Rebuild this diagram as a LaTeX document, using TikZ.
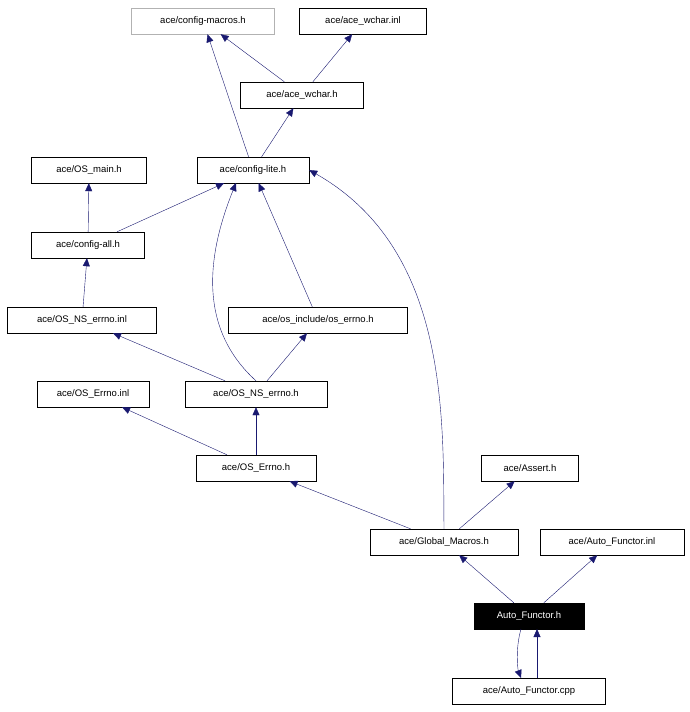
\documentclass[tikz,border=0pt]{standalone}
\usepackage{fontspec}
\setmainfont{Liberation Sans}
\usetikzlibrary{arrows.meta}
\definecolor{edgeblue}{RGB}{25,25,112}
\begin{document}
\begin{tikzpicture}[x=1pt,y=-1pt,
  file/.style={draw,fill=white,minimum height=26pt,inner sep=0pt,font=\fontsize{9.5}{11}\selectfont},
  dep/.style={edgeblue,-{Triangle[length=8pt,width=7pt]}}]
\useasboundingbox (0,0) rectangle (689,712);
% file nodes
\node[file,draw=gray!60,minimum width=143pt] (cmacros) at (203,21) {ace/config-macros.h};
\node[file,minimum width=127pt] (wcinl) at (363,21) {ace/ace\_wchar.inl};
\node[file,minimum width=123pt] (wch) at (302,95) {ace/ace\_wchar.h};
\node[file,minimum width=112pt] (clite) at (253,170) {ace/config-lite.h};
\node[file,minimum width=115pt] (osmain) at (89,170) {ace/OS\_main.h};
\node[file,minimum width=113pt] (call) at (88,245) {ace/config-all.h};
\node[file,minimum width=149pt] (nsinl) at (82,320) {ace/OS\_NS\_errno.inl};
\node[file,minimum width=179pt] (oserrno) at (318,320) {ace/os\_include/os\_errno.h};
\node[file,minimum width=112pt] (errinl) at (93,394) {ace/OS\_Errno.inl};
\node[file,minimum width=142pt] (nsh) at (256,394) {ace/OS\_NS\_errno.h};
\node[file,minimum width=120pt] (errh) at (256,468) {ace/OS\_Errno.h};
\node[file,minimum width=97pt] (assert) at (530,468) {ace/Assert.h};
\node[file,minimum width=148pt] (gmac) at (444,542) {ace/Global\_Macros.h};
\node[file,minimum width=144pt] (afinl) at (612,542) {ace/Auto\_Functor.inl};
\node[file,fill=black,text=white,minimum width=110pt] (afh) at (529,616) {Auto\_Functor.h};
\node[file,minimum width=153pt] (afcpp) at (529,691) {ace/Auto\_Functor.cpp};
% free ends of the curved and doubled edges
\coordinate (clitein) at (236,183);
\coordinate (afhout) at (521,629);
\coordinate (afhin) at (537,629);
\coordinate (cppout) at (537,678);
\coordinate (cppin) at (521,678);
% include edges
\draw[dep] (wch) -- (cmacros);
\draw[dep] (wch) -- (wcinl);
\draw[dep] (clite) -- (cmacros);
\draw[dep] (clite) -- (wch);
\draw[dep] (call) -- (osmain);
\draw[dep] (call) -- (clite);
\draw[dep] (nsinl) -- (call);
\draw[dep] (oserrno) -- (clite);
\draw[dep] (nsh) -- (nsinl);
\draw[dep] (nsh) -- (oserrno);
\draw[dep] (nsh.north) .. controls (200,330) and (205,260) .. (clitein);
\draw[dep] (errh) -- (errinl);
\draw[dep] (errh) -- (nsh);
\draw[dep] (gmac) -- (errh);
\draw[dep] (gmac) -- (assert);
\draw[dep] (gmac.north) .. controls (443,420) and (450,250) .. (clite.east);
\draw[dep] (afh) -- (gmac);
\draw[dep] (afh) -- (afinl);
\draw[dep] (cppout) -- (afhin);
\draw[dep] (afhout) .. controls (515,650) and (518,670) .. (cppin);
\end{tikzpicture}
\end{document}
